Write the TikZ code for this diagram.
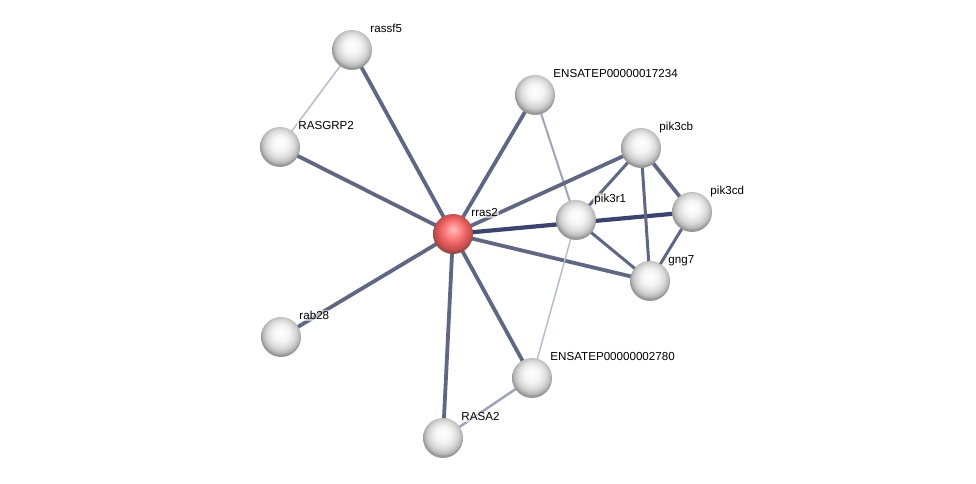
\documentclass[tikz,border=0pt]{standalone}
\usepackage{fontspec}
\setmainfont{Liberation Sans}
\usetikzlibrary{backgrounds}
\definecolor{edgedark}{RGB}{95,103,130}
\definecolor{edgedeep}{RGB}{58,68,108}
\definecolor{edgelight}{RGB}{185,188,205}
\definecolor{edgemid}{RGB}{160,164,185}
\pgfdeclareradialshading{protball}{\pgfpoint{0bp}{6bp}}{%
  color(0bp)=(white); color(10bp)=(white!96!black); color(18bp)=(white!85!black);
  color(23bp)=(white!72!black); color(25bp)=(white!60!black); color(50bp)=(white!60!black)}
\pgfdeclareradialshading{queryball}{\pgfpoint{0bp}{6bp}}{%
  color(0bp)=(red!25!white); color(10bp)=(red!50!white); color(18bp)=(red!60!white!88!black);
  color(23bp)=(red!60!white!76!black); color(25bp)=(red!55!white!62!black); color(50bp)=(red!55!white!62!black)}

\begin{document}
\begin{tikzpicture}[
  x=1pt, y=-1pt,
  prot/.style={circle, minimum size=40pt, inner sep=0pt, shading=protball},
  query/.style={prot, shading=queryball},
  lbl/.style={anchor=base west, inner sep=1pt, xshift=3pt, yshift=3pt,
    fill=white, fill opacity=0.6, text opacity=1, font=\fontsize{11.6}{13}\selectfont},
  edge/.style={draw=edgedark, line width=3.8pt},
  medge/.style={draw=edgedark, line width=3pt},
  tedge/.style={draw=edgemid, line width=2pt},
  ledge/.style={draw=edgelight, line width=1.5pt}
]
\useasboundingbox (0,0) rectangle (976,483);

\node[prot] (rassf5) at (352,50) [label={[lbl]45:rassf5}] {};
\node[prot] (rasgrp2) at (280,147) [label={[lbl]45:RASGRP2}] {};
\node[query] (rras2) at (453,234) [label={[lbl]45:rras2}] {};
\node[prot] (ens17234) at (535,95) [label={[lbl]45:ENSATEP00000017234}] {};
\node[prot] (pik3cb) at (641,148) [label={[lbl]45:pik3cb}] {};
\node[prot] (pik3cd) at (692,212) [label={[lbl]45:pik3cd}] {};
\node[prot] (pik3r1) at (576,220) [label={[lbl]45:pik3r1}] {};
\node[prot] (gng7) at (650,281) [label={[lbl]45:gng7}] {};
\node[prot] (rab28) at (281,337) [label={[lbl]45:rab28}] {};
\node[prot] (ens2780) at (532,378) [label={[lbl]45:ENSATEP00000002780}] {};
\node[prot] (rasa2) at (443,438) [label={[lbl]45:RASA2}] {};

\begin{scope}[on background layer]
\draw[ledge] (rassf5.center) -- (rasgrp2.center);
\draw[edge] (rassf5.center) -- (rras2.center);
\draw[edge] (rasgrp2.center) -- (rras2.center);
\draw[edge] (ens17234.center) -- (rras2.center);
\draw[tedge] (ens17234.center) -- (pik3r1.center);
\draw[edge] (rras2.center) -- (pik3cb.center);
\draw[edge, draw=edgedeep, line width=4.2pt] (rras2.center) -- (pik3cd.center);
\draw[edge] (rras2.center) -- (gng7.center);
\draw[edge] (rras2.center) -- (rab28.center);
\draw[edge] (rras2.center) -- (rasa2.center);
\draw[edge] (rras2.center) -- (ens2780.center);
\draw[ledge] (pik3r1.center) -- (ens2780.center);
\draw[tedge, line width=2.5pt] (ens2780.center) -- (rasa2.center);
\draw[medge] (pik3cb.center) -- (pik3r1.center);
\draw[edge] (pik3cb.center) -- (pik3cd.center);
\draw[medge] (pik3cb.center) -- (gng7.center);
\draw[medge] (pik3cd.center) -- (gng7.center);
\draw[medge] (pik3r1.center) -- (gng7.center);
\end{scope}
\end{tikzpicture}
\end{document}
